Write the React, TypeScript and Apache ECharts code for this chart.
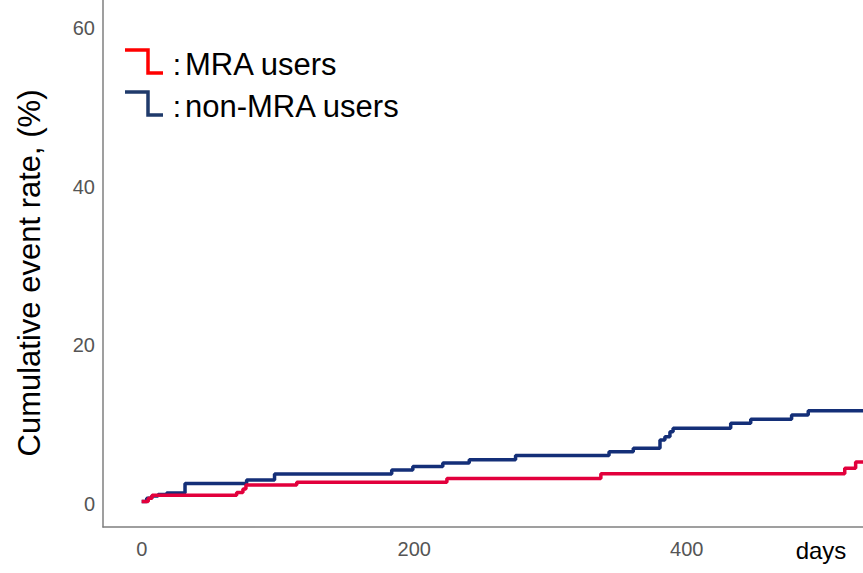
import React, { useEffect, useRef } from "react";
import * as echarts from "echarts";

const mraDays = [0, 4.8, 7.6, 69.7, 74.3, 76.5, 113.8, 224, 337, 516, 524, 529.4];
const mraRate = [0.3, 0.72, 1.1, 1.45, 1.9, 2.4, 2.75, 3.2, 3.8, 4.5, 5.3, 5.3];

const nonMraDays = [0, 3.7, 7.3, 12, 18.3, 31.8, 77, 97.5, 183.5, 199, 221, 240.4, 274.4, 343, 360.8, 380.4, 384, 387.7, 390, 432.3, 447, 477, 489.2, 529.4];
const nonMraRate = [0.3, 0.72, 1.0, 1.2, 1.39, 2.58, 3.03, 3.78, 4.29, 4.73, 5.17, 5.58, 6.11, 6.59, 7.02, 8.07, 8.48, 9.11, 9.54, 10.17, 10.68, 11.22, 11.76, 11.76];

const xTicks = [0, 200, 400];
const yTicks = [0, 20, 40, 60];

const seriesNames = ["MRA users", "non-MRA users"];
const xName = "days";
const yName = "Cumulative event rate, (%)";

const FONT = "'Liberation Sans', Arial, sans-serif";
const RED_LINE = "#e2003c";
const BLUE_LINE = "#142f78";
const RED_LEG = "#ff0000";
const BLUE_LEG = "#1f3a6b";

export default function App() {
  const ref = useRef<HTMLDivElement>(null);
  useEffect(() => {
    if (!ref.current) return;
    const chart = echarts.init(ref.current, undefined, { renderer: "svg" });
    const zip = (a: number[], b: number[]) => a.map((d, i) => [d, b[i]]);
    const legendIcon = (x: number, y: number, color: string) => ({
      type: "polyline",
      shape: { points: [[x, y], [x + 23, y], [x + 23, y + 23], [x + 38, y + 23]] },
      style: { stroke: color, lineWidth: 3.5, fill: null },
    });
    const legendText = (y: number, text: string) => [
      {
        type: "text",
        x: 177,
        y,
        style: { text: ":", fontSize: 30, fontFamily: FONT, fill: "#000", align: "center", verticalAlign: "middle" },
      },
      {
        type: "text",
        x: 185,
        y,
        style: { text, fontSize: 31, fontFamily: FONT, fill: "#000", align: "left", verticalAlign: "middle" },
      },
    ];
    chart.setOption({
      animation: false,
      grid: { left: 103, right: 0, top: 0, bottom: 46 },
      xAxis: {
        type: "value",
        min: -28.4,
        max: 529.4,
        axisLine: { show: true, onZero: false, lineStyle: { color: "#7f7f7f", width: 1.5 } },
        axisTick: { show: false },
        splitLine: { show: false },
        axisLabel: {
          customValues: xTicks,
          color: "#555555",
          fontSize: 20,
          fontFamily: FONT,
          margin: 12,
        },
      },
      yAxis: {
        type: "value",
        min: -2.9,
        max: 63.53,
        axisLine: { show: true, onZero: false, lineStyle: { color: "#7f7f7f", width: 1.5 } },
        axisTick: { show: false },
        splitLine: { show: false },
        axisLabel: {
          customValues: yTicks,
          color: "#555555",
          fontSize: 20,
          fontFamily: FONT,
          margin: 8,
        },
      },
      series: [
        {
          name: seriesNames[1],
          type: "line",
          step: "end",
          symbol: "none",
          data: zip(nonMraDays, nonMraRate),
          lineStyle: { color: BLUE_LINE, width: 3.5 },
          z: 2,
        },
        {
          name: seriesNames[0],
          type: "line",
          step: "end",
          symbol: "none",
          data: zip(mraDays, mraRate),
          lineStyle: { color: RED_LINE, width: 3.5 },
          z: 3,
        },
      ],
      graphic: [
        {
          type: "text",
          x: 29,
          y: 273,
          rotation: Math.PI / 2,
          style: {
            text: yName,
            fontSize: 31,
            fontFamily: FONT,
            fill: "#000",
            align: "center",
            verticalAlign: "middle",
          },
        },
        {
          type: "text",
          x: 821,
          y: 550,
          style: {
            text: xName,
            fontSize: 24,
            fontFamily: FONT,
            fill: "#000",
            align: "center",
            verticalAlign: "middle",
          },
        },
        legendIcon(125, 50, RED_LEG),
        legendIcon(125, 92, BLUE_LEG),
        ...legendText(64, seriesNames[0]),
        ...legendText(106, seriesNames[1]),
      ],
    });
    return () => chart.dispose();
  }, []);
  return (
    <div
      ref={ref}
      style={{ position: "absolute", left: 0, top: 0, width: 863, height: 573, background: "#fff" }}
    />
  );
}
